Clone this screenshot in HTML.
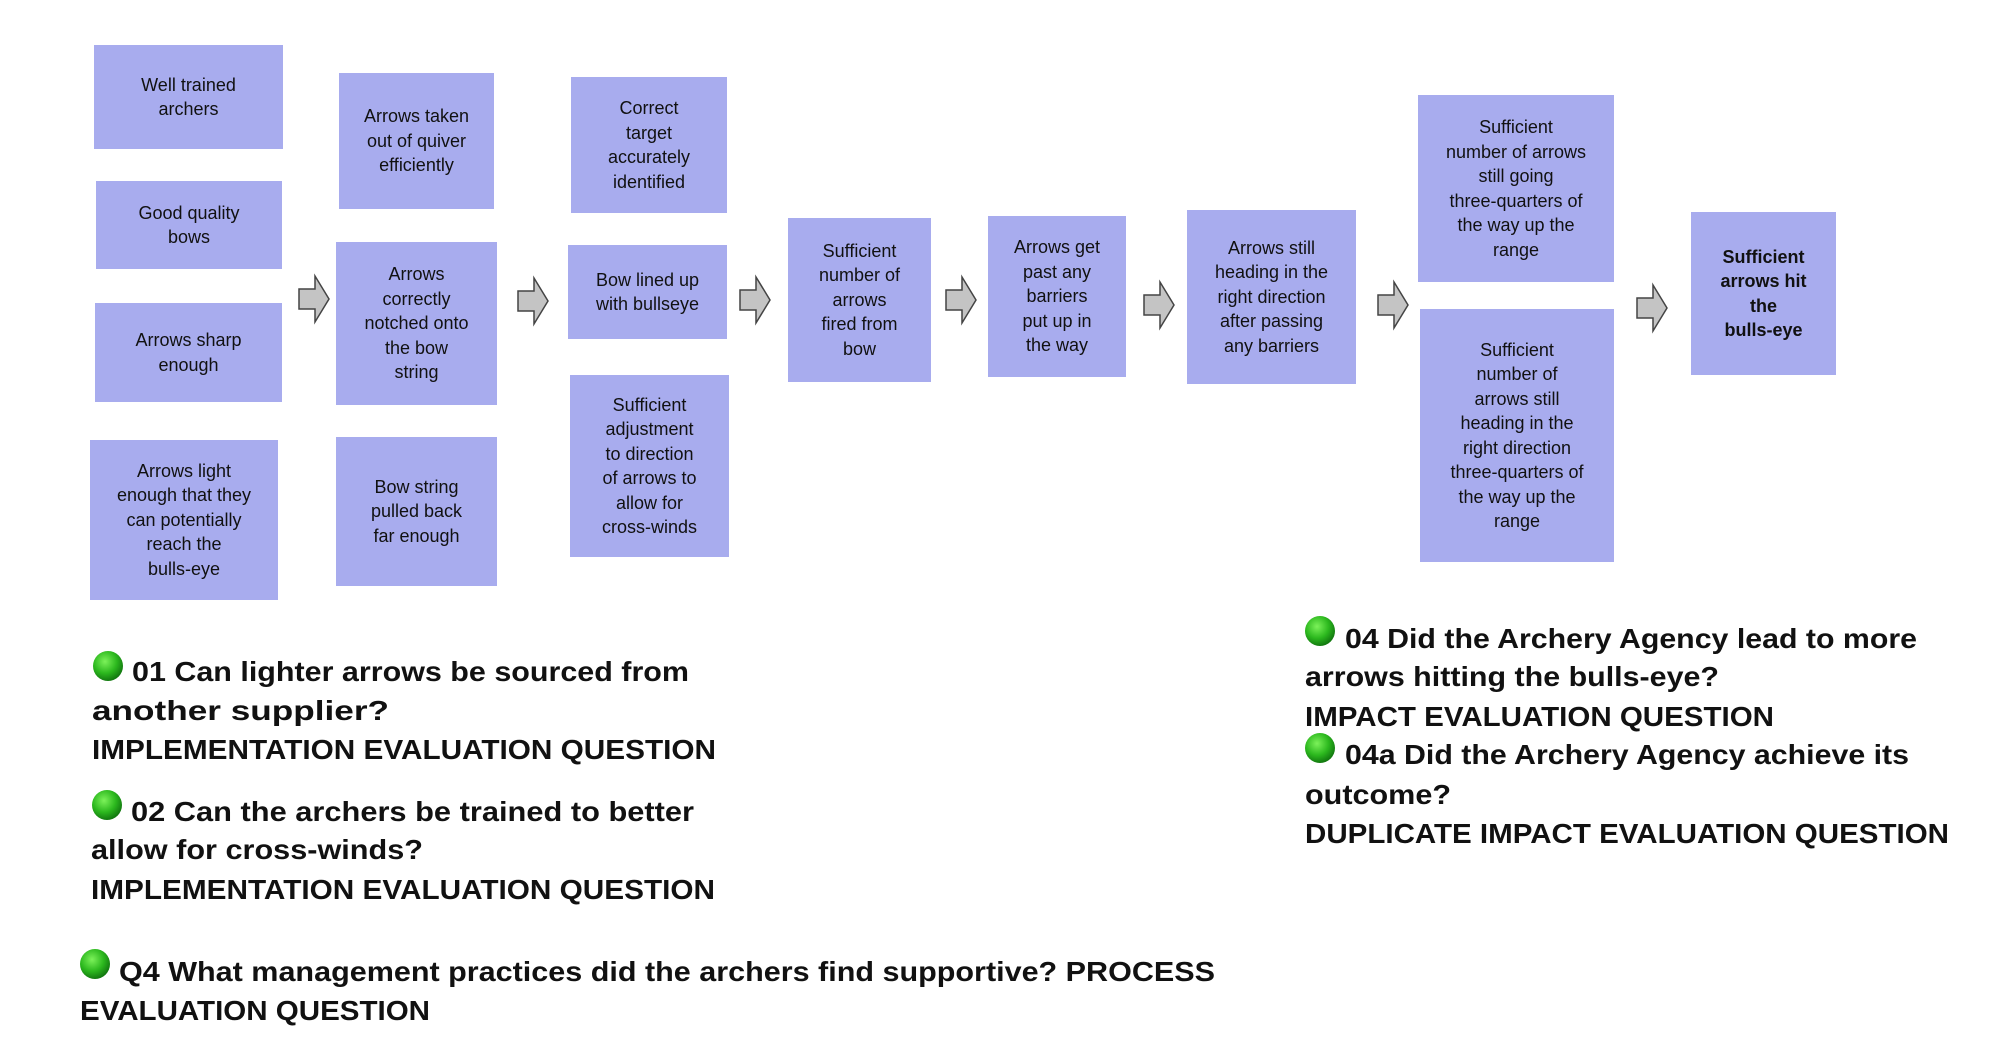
<!DOCTYPE html>
<html><head><meta charset="utf-8"><style>
body{margin:0;width:2002px;height:1040px;background:#fff;position:relative;overflow:hidden;font-family:"Liberation Sans",sans-serif}
.b{position:absolute;background:#a8acee;display:flex;align-items:center;justify-content:center;text-align:center;font-size:18px;line-height:24.5px;color:#111}
svg{position:absolute;left:0;top:0}
</style></head><body>
<div class="b" style="left:94px;top:45px;width:189px;height:104px">Well trained<br>archers</div>
<div class="b" style="left:96px;top:181px;width:186px;height:88px">Good quality<br>bows</div>
<div class="b" style="left:95px;top:303px;width:187px;height:99px">Arrows sharp<br>enough</div>
<div class="b" style="left:90px;top:440px;width:188px;height:160px">Arrows light<br>enough that they<br>can potentially<br>reach the<br>bulls-eye</div>
<div class="b" style="left:339px;top:73px;width:155px;height:136px">Arrows taken<br>out of quiver<br>efficiently</div>
<div class="b" style="left:336px;top:242px;width:161px;height:163px">Arrows<br>correctly<br>notched onto<br>the bow<br>string</div>
<div class="b" style="left:336px;top:437px;width:161px;height:149px">Bow string<br>pulled back<br>far enough</div>
<div class="b" style="left:571px;top:77px;width:156px;height:136px">Correct<br>target<br>accurately<br>identified</div>
<div class="b" style="left:568px;top:245px;width:159px;height:94px">Bow lined up<br>with bullseye</div>
<div class="b" style="left:570px;top:375px;width:159px;height:182px">Sufficient<br>adjustment<br>to direction<br>of arrows to<br>allow for<br>cross-winds</div>
<div class="b" style="left:788px;top:218px;width:143px;height:164px">Sufficient<br>number of<br>arrows<br>fired from<br>bow</div>
<div class="b" style="left:988px;top:216px;width:138px;height:161px">Arrows get<br>past any<br>barriers<br>put up in<br>the way</div>
<div class="b" style="left:1187px;top:210px;width:169px;height:174px">Arrows still<br>heading in the<br>right direction<br>after passing<br>any barriers</div>
<div class="b" style="left:1418px;top:95px;width:196px;height:187px">Sufficient<br>number of arrows<br>still going<br>three-quarters of<br>the way up the<br>range</div>
<div class="b" style="left:1420px;top:309px;width:194px;height:253px">Sufficient<br>number of<br>arrows still<br>heading in the<br>right direction<br>three-quarters of<br>the way up the<br>range</div>
<div class="b" style="left:1691px;top:212px;width:145px;height:163px;font-weight:bold">Sufficient<br>arrows hit<br>the<br>bulls-eye</div>
<svg width="2002" height="1040" viewBox="0 0 2002 1040">
<defs>
<path id="ar" d="M0,-10 L16,-10 L16,-23 L30,0 L16,23 L16,10 L0,10 Z" fill="#c4c4c4" stroke="#444" stroke-width="1.5"/>
<radialGradient id="g" cx="40%" cy="35%" r="65%"><stop offset="0" stop-color="#7cf25a"/><stop offset="0.6" stop-color="#2cb81e"/><stop offset="1" stop-color="#137a10"/></radialGradient>
</defs>
<use href="#ar" x="299" y="299"/>
<use href="#ar" x="518" y="301"/>
<use href="#ar" x="740" y="300"/>
<use href="#ar" x="946" y="300"/>
<use href="#ar" x="1144" y="305"/>
<use href="#ar" x="1378" y="305"/>
<use href="#ar" x="1637" y="308"/>
<g fill="url(#g)">
<circle cx="108" cy="666" r="15"/><circle cx="107" cy="805" r="15"/><circle cx="95" cy="964" r="15"/>
<circle cx="1320" cy="631" r="15"/><circle cx="1320" cy="748" r="15"/>
</g>
<g font-family="Liberation Sans, sans-serif" font-weight="bold" font-size="28" fill="#111" lengthAdjust="spacingAndGlyphs">
<text x="132" y="681" textLength="557" lengthAdjust="spacingAndGlyphs">01 Can lighter arrows be sourced from</text>
<text x="92" y="720" textLength="297" lengthAdjust="spacingAndGlyphs">another supplier?</text>
<text x="92" y="759" textLength="624" lengthAdjust="spacingAndGlyphs">IMPLEMENTATION EVALUATION QUESTION</text>
<text x="131" y="821" textLength="563" lengthAdjust="spacingAndGlyphs">02 Can the archers be trained to better</text>
<text x="91" y="859" textLength="332" lengthAdjust="spacingAndGlyphs">allow for cross-winds?</text>
<text x="91" y="899" textLength="624" lengthAdjust="spacingAndGlyphs">IMPLEMENTATION EVALUATION QUESTION</text>
<text x="119" y="981" textLength="1096" lengthAdjust="spacingAndGlyphs">Q4 What management practices did the archers find supportive? PROCESS</text>
<text x="80" y="1020" textLength="350" lengthAdjust="spacingAndGlyphs">EVALUATION QUESTION</text>
<text x="1345" y="648" textLength="572" lengthAdjust="spacingAndGlyphs">04 Did the Archery Agency lead to more</text>
<text x="1305" y="686" textLength="414" lengthAdjust="spacingAndGlyphs">arrows hitting the bulls-eye?</text>
<text x="1305" y="726" textLength="469" lengthAdjust="spacingAndGlyphs">IMPACT EVALUATION QUESTION</text>
<text x="1345" y="764" textLength="564" lengthAdjust="spacingAndGlyphs">04a Did the Archery Agency achieve its</text>
<text x="1305" y="804" textLength="146" lengthAdjust="spacingAndGlyphs">outcome?</text>
<text x="1305" y="843" textLength="644" lengthAdjust="spacingAndGlyphs">DUPLICATE IMPACT EVALUATION QUESTION</text>
</g>
</svg>
</body></html>
